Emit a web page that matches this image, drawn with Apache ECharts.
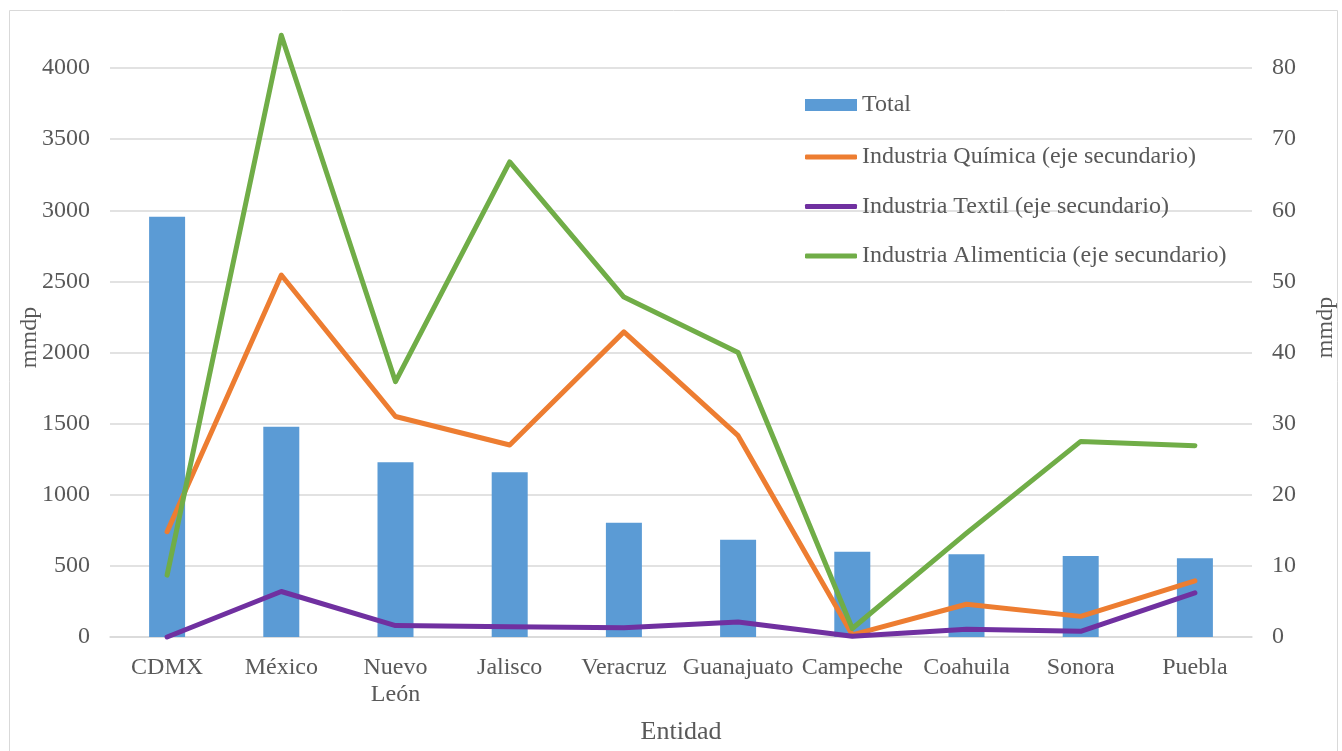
<!DOCTYPE html>
<html>
<head>
<meta charset="utf-8">
<script src="https://cdn.jsdelivr.net/npm/echarts@6/dist/echarts.min.js"></script>
<style>
html,body{margin:0;padding:0;background:#fff;}
#chart{width:1342px;height:751px;}
</style>
</head>
<body>
<div id="chart"></div>
<script>
const categories = ['CDMX','México','Nuevo\nLeón','Jalisco','Veracruz','Guanajuato','Campeche','Coahuila','Sonora','Puebla'];
const total = [2955,1478,1228,1158,804,684,600,581,569,553];
const quimica = [14.8,50.9,31.0,27.0,42.9,28.3,0.3,4.6,2.9,7.9];
const textil = [0,6.4,1.6,1.45,1.3,2.1,0.1,1.1,0.8,6.2];
const alimenticia = [8.7,84.6,35.9,66.8,47.8,40.0,1.2,14.6,27.5,26.9];
const leftTicks = {min:0,max:4000,interval:500};
const rightTicks = {min:0,max:80,interval:10};

const FONT = "'Liberation Serif','Times New Roman',serif";
const TXT = '#595959';
const chart = echarts.init(document.getElementById('chart'));
const lineSeries = (name, data, color) => ({
  name, type:'line', yAxisIndex:1, data, symbol:'none', clip:false,
  lineStyle:{color, width:5, cap:'round', join:'round'},
  itemStyle:{color}
});
const legendText = {fontFamily:FONT,fontSize:24,color:TXT,lineHeight:26};
chart.setOption({
  animation:false,
  textStyle:{fontFamily:FONT,color:TXT},
  graphic:[{type:'rect',shape:{x:9.5,y:10.5,width:1328,height:745},style:{fill:'none',stroke:'#d9d9d9',lineWidth:1},silent:true}],
  grid:{left:110,right:90,top:68,bottom:114,containLabel:false,outerBoundsMode:'none'},
  legend:[
    {
      orient:'vertical', left:805, top:92, padding:0, itemWidth:52, itemHeight:12,
      textStyle:legendText, icon:'rect',
      data:['Total']
    },
    {
      orient:'vertical', left:805, top:144, padding:0, itemWidth:52, itemHeight:5, itemGap:23.5,
      textStyle:legendText, icon:'roundRect',
      data:[
        'Industria Química (eje secundario)',
        'Industria Textil (eje secundario)',
        'Industria Alimenticia (eje secundario)'
      ]
    }
  ],
  xAxis:{
    type:'category', data:categories, boundaryGap:true,
    name:'Entidad', nameLocation:'middle', nameGap:82,
    nameTextStyle:{fontFamily:FONT,fontSize:26,color:TXT},
    axisLine:{lineStyle:{color:'#d9d9d9',width:1.5}},
    axisTick:{show:false},
    axisLabel:{fontFamily:FONT,fontSize:24,color:TXT,margin:17,lineHeight:27,interval:0}
  },
  yAxis:[
    {
      type:'value', min:leftTicks.min, max:leftTicks.max, interval:leftTicks.interval,
      name:'mmdp', nameLocation:'middle', nameRotate:90, nameGap:68, nameMoveOverlap:false,
      nameTextStyle:{fontFamily:FONT,fontSize:24,color:TXT,padding:[0,0,0,30]},
      axisLine:{show:false}, axisTick:{show:false},
      splitLine:{lineStyle:{color:'#d9d9d9',width:1.5}},
      axisLabel:{fontFamily:FONT,fontSize:24,color:TXT,margin:20,formatter:v=>String(v)}
    },
    {
      type:'value', min:rightTicks.min, max:rightTicks.max, interval:rightTicks.interval,
      name:'mmdp', nameLocation:'middle', nameRotate:90, nameGap:62,
      nameTextStyle:{fontFamily:FONT,fontSize:24,color:TXT,padding:[0,0,0,50]},
      axisLine:{show:false}, axisTick:{show:false},
      splitLine:{show:false},
      axisLabel:{fontFamily:FONT,fontSize:24,color:TXT,margin:20,formatter:v=>String(v)}
    }
  ],
  series:[
    {name:'Total',type:'bar',data:total,barWidth:36,itemStyle:{color:'#5B9BD5'}},
    lineSeries('Industria Química (eje secundario)', quimica, '#ED7D31'),
    lineSeries('Industria Textil (eje secundario)', textil, '#7030A0'),
    lineSeries('Industria Alimenticia (eje secundario)', alimenticia, '#70AD47')
  ]
});
</script>
</body>
</html>
